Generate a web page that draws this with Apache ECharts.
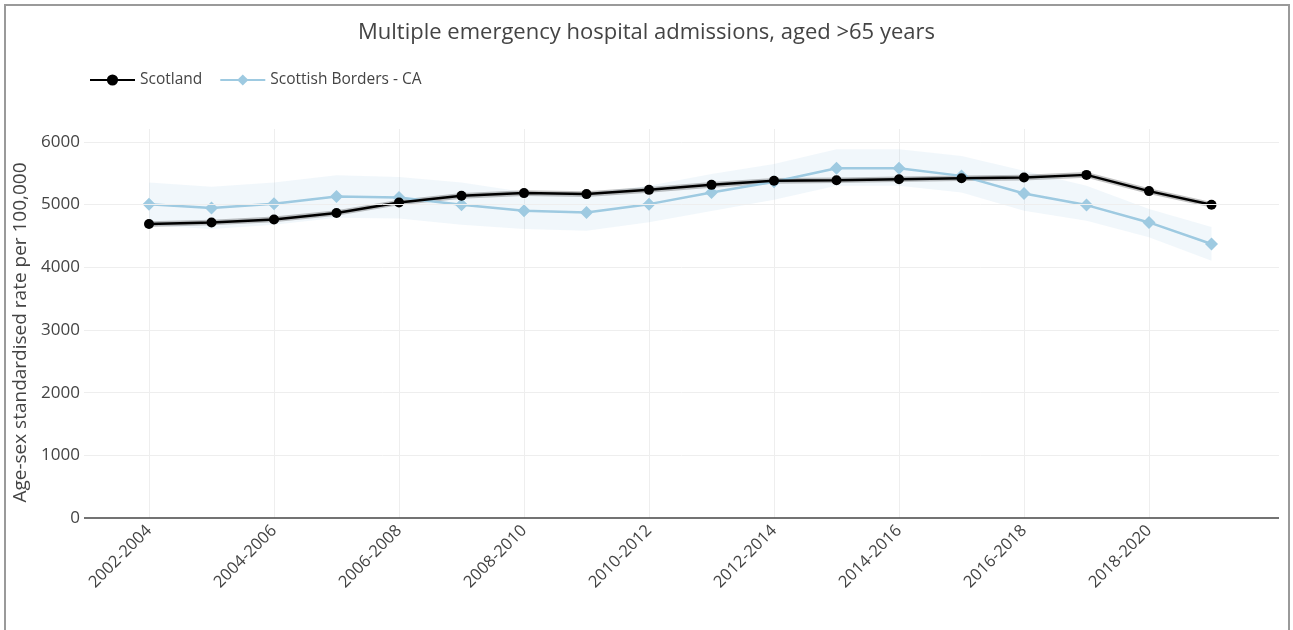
<!DOCTYPE html>
<html>
<head>
<meta charset="utf-8">
<script src="https://cdn.jsdelivr.net/npm/echarts@6/dist/echarts.min.js"></script>
<style>
html,body{margin:0;padding:0;background:#fff;}
#wrap{position:absolute;left:4px;top:4px;width:1286px;height:640px;border:2px solid #9a9a9a;box-sizing:border-box;}
#chart{position:absolute;left:0;top:0;width:1293px;height:630px;}
</style>
</head>
<body>
<div id="wrap"></div>
<div id="chart"></div>
<script>
const categories = ['2002-2004','2003-2005','2004-2006','2005-2007','2006-2008','2007-2009','2008-2010','2009-2011','2010-2012','2011-2013','2012-2014','2013-2015','2014-2016','2015-2017','2016-2018','2017-2019','2018-2020','2019-2021'];
const scotland = [4690,4715,4764,4866,5035,5141,5184,5168,5236,5316,5380,5390,5406,5422,5432,5475,5216,4998];
const scotlandLower = [4645,4670,4719,4821,4990,5096,5139,5123,5191,5271,5335,5345,5361,5377,5387,5430,5171,4953];
const scotlandUpper = [4735,4760,4809,4911,5080,5186,5229,5213,5281,5361,5425,5435,5451,5467,5477,5520,5261,5043];
const borders = [5008,4945,5013,5130,5115,4998,4902,4875,5008,5195,5364,5580,5580,5459,5178,4993,4716,4372];
const bordersLower = [4670,4610,4680,4790,4780,4680,4610,4584,4720,4900,5080,5300,5300,5194,4902,4743,4478,4106];
const bordersUpper = [5353,5284,5353,5470,5443,5353,5200,5184,5300,5490,5650,5884,5884,5777,5539,5300,4929,4642];
const yTicks = [0,1000,2000,3000,4000,5000,6000];
const xLabelIdx = [0,2,4,6,8,10,12,14,16];

const FONT = '"Open Sans", "Noto Sans", sans-serif';
const pairs = arr => arr.map((v,i)=>[i,v]);

function bandSeries(lower, upper, color) {
  return {
    type:'custom', silent:true, z:1, data:[0],
    renderItem:function(params, api){
      const top = upper.map((v,i)=>api.coord([i,v]));
      const bot = lower.map((v,i)=>api.coord([i,v])).reverse();
      return {type:'polygon', shape:{points: top.concat(bot)}, style:{fill:color, stroke:'none'}};
    }
  };
}

const chart = echarts.init(document.getElementById('chart'));
chart.setOption({
  animation:false,
  backgroundColor:'transparent',
  title:{text:'Multiple emergency hospital admissions, aged >65 years', left:'center', top:17,
    textStyle:{fontFamily:FONT, fontSize:22, fontWeight:'normal', color:'#444'}},
  legend:{left:84, top:67, itemWidth:45, itemHeight:14, itemGap:17,
    textStyle:{fontFamily:FONT, fontSize:15.5, color:'#444'},
    data:['Scotland','Scottish Borders - CA']},
  grid:{left:84, right:14, top:129, bottom:112},
  xAxis:{type:'value', min:-1.04, max:18.08,
    axisLine:{show:false},
    axisTick:{show:false, customValues:xLabelIdx},
    axisLabel:{customValues:xLabelIdx, rotate:45, margin:10, fontFamily:FONT, fontSize:16.5, color:'#444',
      formatter:v=>categories[Math.round(v)]||''},
    splitLine:{show:true, lineStyle:{color:'#eeeeee', width:1}}},
  yAxis:{type:'value', min:0, max:6207, interval:1000,
    name:'Age-sex standardised rate per 100,000', nameLocation:'middle', nameGap:47,
    nameTextStyle:{fontFamily:FONT, fontSize:19, color:'#444', padding:[0,18,0,0]},
    axisLine:{show:false}, axisTick:{show:false},
    axisLabel:{margin:4, fontFamily:FONT, fontSize:17, color:'#444',
      formatter:v=> (v % 1000 === 0 ? String(v) : '')},
    splitLine:{show:false}},
  series:[
    {type:'line', name:'grid', silent:true, data:[], z:0,
      markLine:{silent:true, symbol:'none', label:{show:false}, animation:false,
        data: yTicks.map(v=>({yAxis:v, lineStyle:{color: v===0 ? '#444' : '#eeeeee', width: v===0 ? 1.5 : 1, type:'solid'}}))}},
    bandSeries(bordersLower, bordersUpper, 'rgba(158,202,225,0.15)'),
    bandSeries(scotlandLower, scotlandUpper, 'rgba(0,0,0,0.24)'),
    {type:'line', name:'Scottish Borders - CA', data:pairs(borders), symbol:'diamond', symbolSize:13,
      itemStyle:{color:'#9ecae1'}, lineStyle:{color:'#9ecae1', width:2.5}, z:3},
    {type:'line', name:'Scotland', data:pairs(scotland), symbol:'circle', symbolSize:10,
      itemStyle:{color:'#000'}, lineStyle:{color:'#000', width:2.5}, z:4}
  ]
});
</script>
</body>
</html>
